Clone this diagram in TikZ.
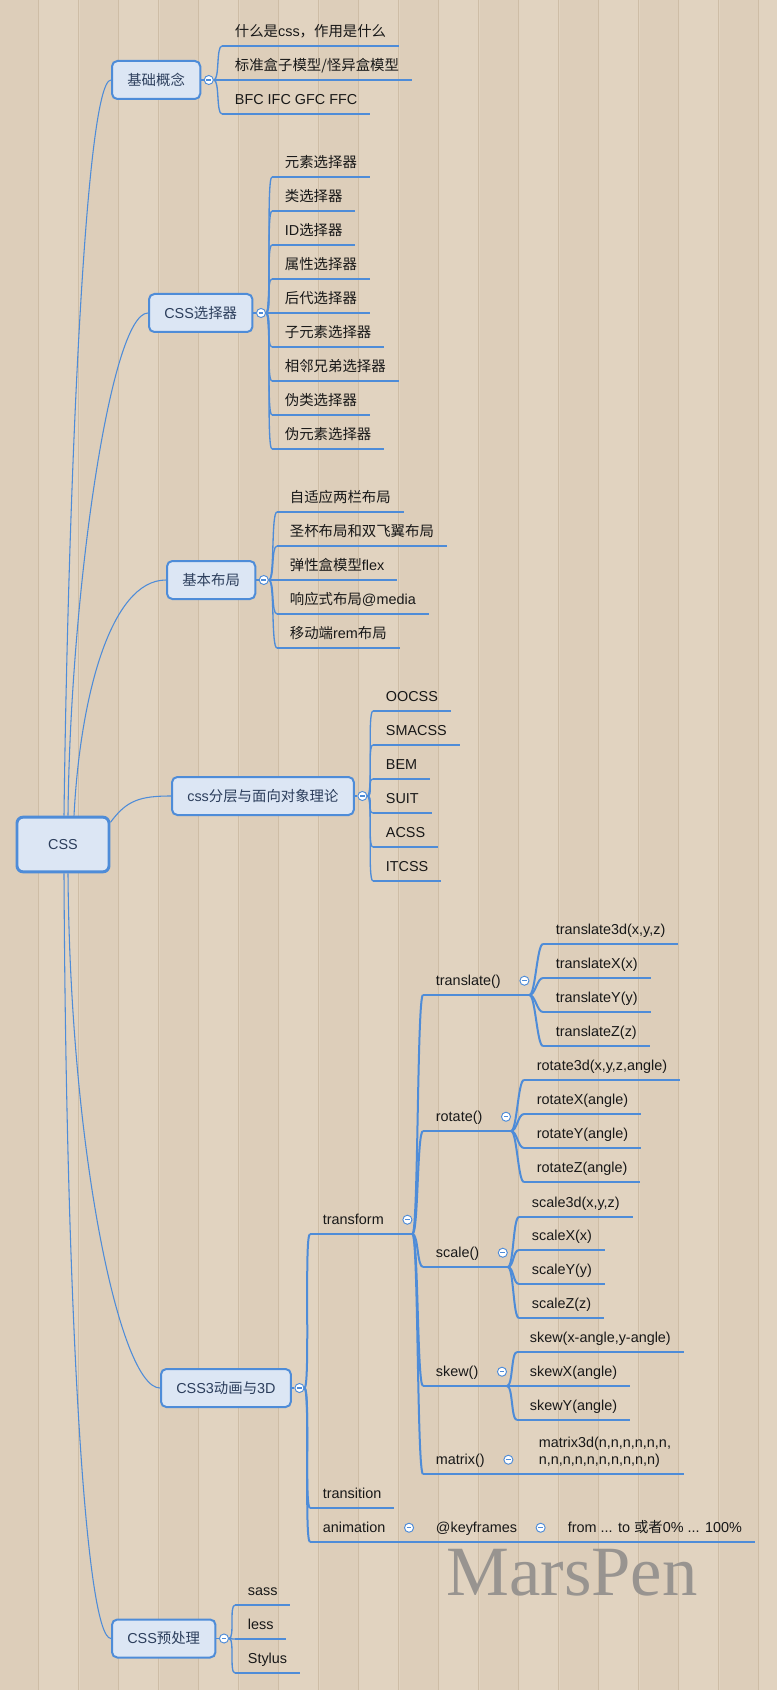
\documentclass[tikz,border=0pt]{standalone}
\usepackage{fontspec}
\setmainfont{Liberation Sans}
\newfontfamily\cjk{Noto Sans CJK SC}
\newfontfamily\markfont{Liberation Serif}
\newcommand\zhtxt[1]{{\cjk #1}}
\usetikzlibrary{positioning}

\definecolor{linkblue}{RGB}{78,140,216}
\definecolor{boxfill}{RGB}{220,230,244}
\definecolor{boxtext}{RGB}{44,62,92}
\definecolor{leaftext}{RGB}{24,24,24}
\definecolor{woodlight}{RGB}{225,211,192}
\definecolor{wooddark}{RGB}{221,206,186}
\definecolor{woodseam}{RGB}{206,189,166}
\definecolor{markgray}{RGB}{152,148,144}

\begin{document}
\begin{tikzpicture}[
    x=0.75pt, y=-0.75pt,
    every node/.style={font=\fontsize{10.8pt}{13pt}\selectfont},
    root/.style={rectangle, draw=linkblue, line width=2.2pt, rounded corners=4.5pt, fill=boxfill, text=boxtext, minimum width=69pt, minimum height=41pt},
    topic/.style={rectangle, draw=linkblue, line width=1.5pt, rounded corners=4pt, fill=boxfill, text=boxtext, inner xsep=11.5pt, minimum height=28.5pt},
    fold/.style={circle, draw=linkblue, line width=0.7pt, fill=white, minimum size=6.8pt, inner sep=0pt,
      path picture={\draw[linkblue, line width=0.8pt] ([xshift=-1.8pt]path picture bounding box.center) -- ([xshift=1.8pt]path picture bounding box.center);}},
    item/.style={anchor=south west, inner xsep=9.5pt, inner ysep=0pt, text height=8pt, text depth=6.75pt, text=leaftext},
    leaf/.style={item, append after command={(\tikzlastnode.south west) edge[underline] (\tikzlastnode.south east)}},
    underline/.style={draw=linkblue, line width=1.8pt},
    link/.style={draw=linkblue, line width=0.8pt},
    branch/.style={link, line width=1pt, to path={.. controls +(6,0) and +(-6,0) .. (\tikztotarget)}},
    trunk/.style={branch, line width=1.5pt}
  ]

    % wooden background
    \useasboundingbox (0,0) rectangle (777,1690);
    \fill[woodlight] (0,0) rectangle (777,1690);
    \foreach \px in {0,80,...,720} \fill[wooddark] (\px,0) rectangle ++(38,1690);
    \foreach \px in {38,78,...,758} \draw[woodseam, line width=0.5pt] (\px,0) -- (\px,1690);

    % watermark
    \node[text=markgray, font=\markfont\fontsize{53pt}{60pt}\selectfont, anchor=base west, inner sep=0pt] (watermark) at (446,1595) {MarsPen};

    % Root and main topics
    \node[root] (css) at (63,844.5) {CSS};

    \node[topic, anchor=west] (basic) at (111,80) {\zhtxt{基础概念}};
    \node[topic, anchor=west] (selector) at (148,313) {CSS\zhtxt{选择器}};
    \node[topic, anchor=west] (layout) at (166,580) {\zhtxt{基本布局}};
    \node[topic, anchor=west] (oocss) at (171,796) {css\zhtxt{分层与面向对象理论}};
    \node[topic, anchor=west] (anim) at (160,1388) {CSS3\zhtxt{动画与}3D};
    \node[topic, anchor=west] (pre) at (111,1638.5) {CSS\zhtxt{预处理}};

    \node[fold, right=1.9pt of basic] (basicFold) {};
    \node[fold, right=1.9pt of selector] (selectorFold) {};
    \node[fold, right=1.9pt of layout] (layoutFold) {};
    \node[fold, right=1.9pt of oocss] (oocssFold) {};
    \node[fold, right=1.9pt of anim] (animFold) {};
    \node[fold, right=1.9pt of pre] (preFold) {};

    % Root links
    \draw[link] ([xshift=0.75pt]css.north) .. controls +(4,-317) and +(-26,0) .. (basic.west);
    \draw[link] ([xshift=3.75pt]css.north) .. controls +(2,-217) and +(-38,0) .. (selector.west);
    \draw[link] ([xshift=8.25pt]css.north) .. controls +(6,-117) and +(-56,0) .. (layout.west);
    \draw[link] (css.25) .. controls +(16,-22) and +(-31,0) .. (oocss.west);
    \draw[link] ([xshift=3.75pt]css.south) .. controls +(2,278) and +(-40,0) .. (anim.west);
    \draw[link] ([xshift=0.75pt]css.south) .. controls +(2,428) and +(-26,0) .. (pre.west);

    % Basics
    \node[leaf] (whatcss) at (222,46) {\zhtxt{什么是}css\zhtxt{，作用是什么}};
    \node[leaf] (boxmodel) at (222,80) {\zhtxt{标准盒子模型/怪异盒模型}};
    \node[leaf] (context) at (222,114) {BFC IFC GFC FFC};

    \draw[link] (basic) -- (basicFold);
    \draw[branch] (basicFold.east) to (whatcss.south west);
    \draw[branch] (basicFold.east) to (boxmodel.south west);
    \draw[branch] (basicFold.east) to (context.south west);

    % Selectors
    \node[leaf] (elemSel) at (272,177) {\zhtxt{元素选择器}};
    \node[leaf] (classSel) at (272,211) {\zhtxt{类选择器}};
    \node[leaf] (idSel) at (272,245) {ID\zhtxt{选择器}};
    \node[leaf] (attrSel) at (272,279) {\zhtxt{属性选择器}};
    \node[leaf] (descSel) at (272,313) {\zhtxt{后代选择器}};
    \node[leaf] (childSel) at (272,347) {\zhtxt{子元素选择器}};
    \node[leaf] (siblingSel) at (272,381) {\zhtxt{相邻兄弟选择器}};
    \node[leaf] (pclassSel) at (272,415) {\zhtxt{伪类选择器}};
    \node[leaf] (pelemSel) at (272,449) {\zhtxt{伪元素选择器}};

    \draw[link] (selector) -- (selectorFold);
    \draw[branch] (selectorFold.east) to (elemSel.south west);
    \draw[branch] (selectorFold.east) to (classSel.south west);
    \draw[branch] (selectorFold.east) to (idSel.south west);
    \draw[branch] (selectorFold.east) to (attrSel.south west);
    \draw[branch] (selectorFold.east) to (descSel.south west);
    \draw[branch] (selectorFold.east) to (childSel.south west);
    \draw[branch] (selectorFold.east) to (siblingSel.south west);
    \draw[branch] (selectorFold.east) to (pclassSel.south west);
    \draw[branch] (selectorFold.east) to (pelemSel.south west);

    % Layout
    \node[leaf] (twoCol) at (277,512) {\zhtxt{自适应两栏布局}};
    \node[leaf] (grail) at (277,546) {\zhtxt{圣杯布局和双飞翼布局}};
    \node[leaf] (flexbox) at (277,580) {\zhtxt{弹性盒模型}flex};
    \node[leaf] (media) at (277,614) {\zhtxt{响应式布局}@media};
    \node[leaf] (remLayout) at (277,648) {\zhtxt{移动端}rem\zhtxt{布局}};

    \draw[link] (layout) -- (layoutFold);
    \draw[branch] (layoutFold.east) to (twoCol.south west);
    \draw[branch] (layoutFold.east) to (grail.south west);
    \draw[branch] (layoutFold.east) to (flexbox.south west);
    \draw[branch] (layoutFold.east) to (media.south west);
    \draw[branch] (layoutFold.east) to (remLayout.south west);

    % Layering theories
    \node[leaf] (ooc) at (373,711) {OOCSS};
    \node[leaf] (smacss) at (373,745) {SMACSS};
    \node[leaf] (bem) at (373,779) {BEM};
    \node[leaf] (suit) at (373,813) {SUIT};
    \node[leaf] (acss) at (373,847) {ACSS};
    \node[leaf] (itcss) at (373,881) {ITCSS};

    \draw[link] (oocss) -- (oocssFold);
    \draw[branch] (oocssFold.east) to (ooc.south west);
    \draw[branch] (oocssFold.east) to (smacss.south west);
    \draw[branch] (oocssFold.east) to (bem.south west);
    \draw[branch] (oocssFold.east) to (suit.south west);
    \draw[branch] (oocssFold.east) to (acss.south west);
    \draw[branch] (oocssFold.east) to (itcss.south west);

    % CSS3 animation and 3D
    \node[item] (transform) at (310,1234) {transform};
    \node[fold, right=4.3pt of transform.base east, yshift=3.75pt] (transformFold) {};
    \coordinate (transformEnd) at (transformFold.east |- transform.south);
    \draw[underline] (transform.south west) -- (transformEnd);

    \node[leaf] (transition) at (310,1508) {transition};

    \node[item] (animation) at (310,1542) {animation};
    \node[fold, right=4.3pt of animation.base east, yshift=3.75pt] (animationFold) {};
    \coordinate (animationEnd) at (animationFold.east |- animation.south);
    \draw[underline] (animation.south west) -- (animationEnd);

    \draw[link] (anim) -- (animFold);
    \draw[trunk] (animFold.east) to (transform.south west);
    \draw[trunk] (animFold.east) to (transition.south west);
    \draw[trunk] (animFold.east) to (animation.south west);

    % transform functions
    \node[item] (translate) at (423,995) {translate()};
    \node[fold, right=4.3pt of translate.base east, yshift=3.75pt] (translateFold) {};
    \coordinate (translateEnd) at (translateFold.east |- translate.south);
    \draw[underline] (translate.south west) -- (translateEnd);

    \node[item] (rotate) at (423,1131) {rotate()};
    \node[fold, right=4.3pt of rotate.base east, yshift=3.75pt] (rotateFold) {};
    \coordinate (rotateEnd) at (rotateFold.east |- rotate.south);
    \draw[underline] (rotate.south west) -- (rotateEnd);

    \node[item] (scale) at (423,1267) {scale()};
    \node[fold, right=4.3pt of scale.base east, yshift=3.75pt] (scaleFold) {};
    \coordinate (scaleEnd) at (scaleFold.east |- scale.south);
    \draw[underline] (scale.south west) -- (scaleEnd);

    \node[item] (skew) at (423,1386) {skew()};
    \node[fold, right=4.3pt of skew.base east, yshift=3.75pt] (skewFold) {};
    \coordinate (skewEnd) at (skewFold.east |- skew.south);
    \draw[underline] (skew.south west) -- (skewEnd);

    \node[item] (matrix) at (423,1474) {matrix()};
    \node[fold, right=4.3pt of matrix.base east, yshift=3.75pt] (matrixFold) {};
    \coordinate (matrixEnd) at (matrixFold.east |- matrix.south);
    \draw[underline] (matrix.south west) -- (matrixEnd);

    \draw[trunk] (transformEnd) to (translate.south west);
    \draw[trunk] (transformEnd) to (rotate.south west);
    \draw[trunk] (transformEnd) to (scale.south west);
    \draw[trunk] (transformEnd) to (skew.south west);
    \draw[trunk] (transformEnd) to (matrix.south west);

    % translate
    \node[leaf] (translate3d) at (543,944) {translate3d(x,y,z)};
    \node[leaf] (translateX) at (543,978) {translateX(x)};
    \node[leaf] (translateY) at (543,1012) {translateY(y)};
    \node[leaf] (translateZ) at (543,1046) {translateZ(z)};
    \draw[trunk] (translateEnd) to (translate3d.south west);
    \draw[trunk] (translateEnd) to (translateX.south west);
    \draw[trunk] (translateEnd) to (translateY.south west);
    \draw[trunk] (translateEnd) to (translateZ.south west);

    % rotate
    \node[leaf] (rotate3d) at (524,1080) {rotate3d(x,y,z,angle)};
    \node[leaf] (rotateX) at (524,1114) {rotateX(angle)};
    \node[leaf] (rotateY) at (524,1148) {rotateY(angle)};
    \node[leaf] (rotateZ) at (524,1182) {rotateZ(angle)};
    \draw[trunk] (rotateEnd) to (rotate3d.south west);
    \draw[trunk] (rotateEnd) to (rotateX.south west);
    \draw[trunk] (rotateEnd) to (rotateY.south west);
    \draw[trunk] (rotateEnd) to (rotateZ.south west);

    % scale
    \node[leaf] (scale3d) at (519,1217) {scale3d(x,y,z)};
    \node[leaf] (scaleX) at (519,1250) {scaleX(x)};
    \node[leaf] (scaleY) at (519,1284) {scaleY(y)};
    \node[leaf] (scaleZ) at (519,1318) {scaleZ(z)};
    \draw[trunk] (scaleEnd) to (scale3d.south west);
    \draw[trunk] (scaleEnd) to (scaleX.south west);
    \draw[trunk] (scaleEnd) to (scaleY.south west);
    \draw[trunk] (scaleEnd) to (scaleZ.south west);

    % skew
    \node[leaf] (skewXY) at (517,1352) {skew(x-angle,y-angle)};
    \node[leaf] (skewX) at (517,1386) {skewX(angle)};
    \node[leaf] (skewY) at (517,1420) {skewY(angle)};
    \draw[trunk] (skewEnd) to (skewXY.south west);
    \draw[trunk] (skewEnd) to (skewX.south west);
    \draw[trunk] (skewEnd) to (skewY.south west);

    % matrix
    \node[leaf] (matrix3d) at (526,1474) {\shortstack[l]{matrix3d(n,n,n,n,n,n,\\n,n,n,n,n,n,n,n,n,n)}};
    \draw[trunk] (matrixEnd) to (matrix3d.south west);

    % animation
    \node[item] (keyframes) at (423,1542) {@keyframes};
    \node[fold, right=4.3pt of keyframes.base east, yshift=3.75pt] (keyframesFold) {};
    \coordinate (keyframesEnd) at (keyframesFold.east |- keyframes.south);
    \draw[underline] (keyframes.south west) -- (keyframesEnd);
    \node[leaf] (fromTo) at (555,1542) {from ... to \zhtxt{或者}0\% ... 100\%};
    \draw[trunk] (animationEnd) to (keyframes.south west);
    \draw[trunk] (keyframesEnd) to (fromTo.south west);

    % Preprocessors
    \node[leaf] (sass) at (235,1605) {sass};
    \node[leaf] (less) at (235,1639) {less};
    \node[leaf] (stylus) at (235,1673) {Stylus};

    \draw[link] (pre) -- (preFold);
    \draw[branch] (preFold.east) to (sass.south west);
    \draw[branch] (preFold.east) to (less.south west);
    \draw[branch] (preFold.east) to (stylus.south west);
  \end{tikzpicture}
\end{document}
